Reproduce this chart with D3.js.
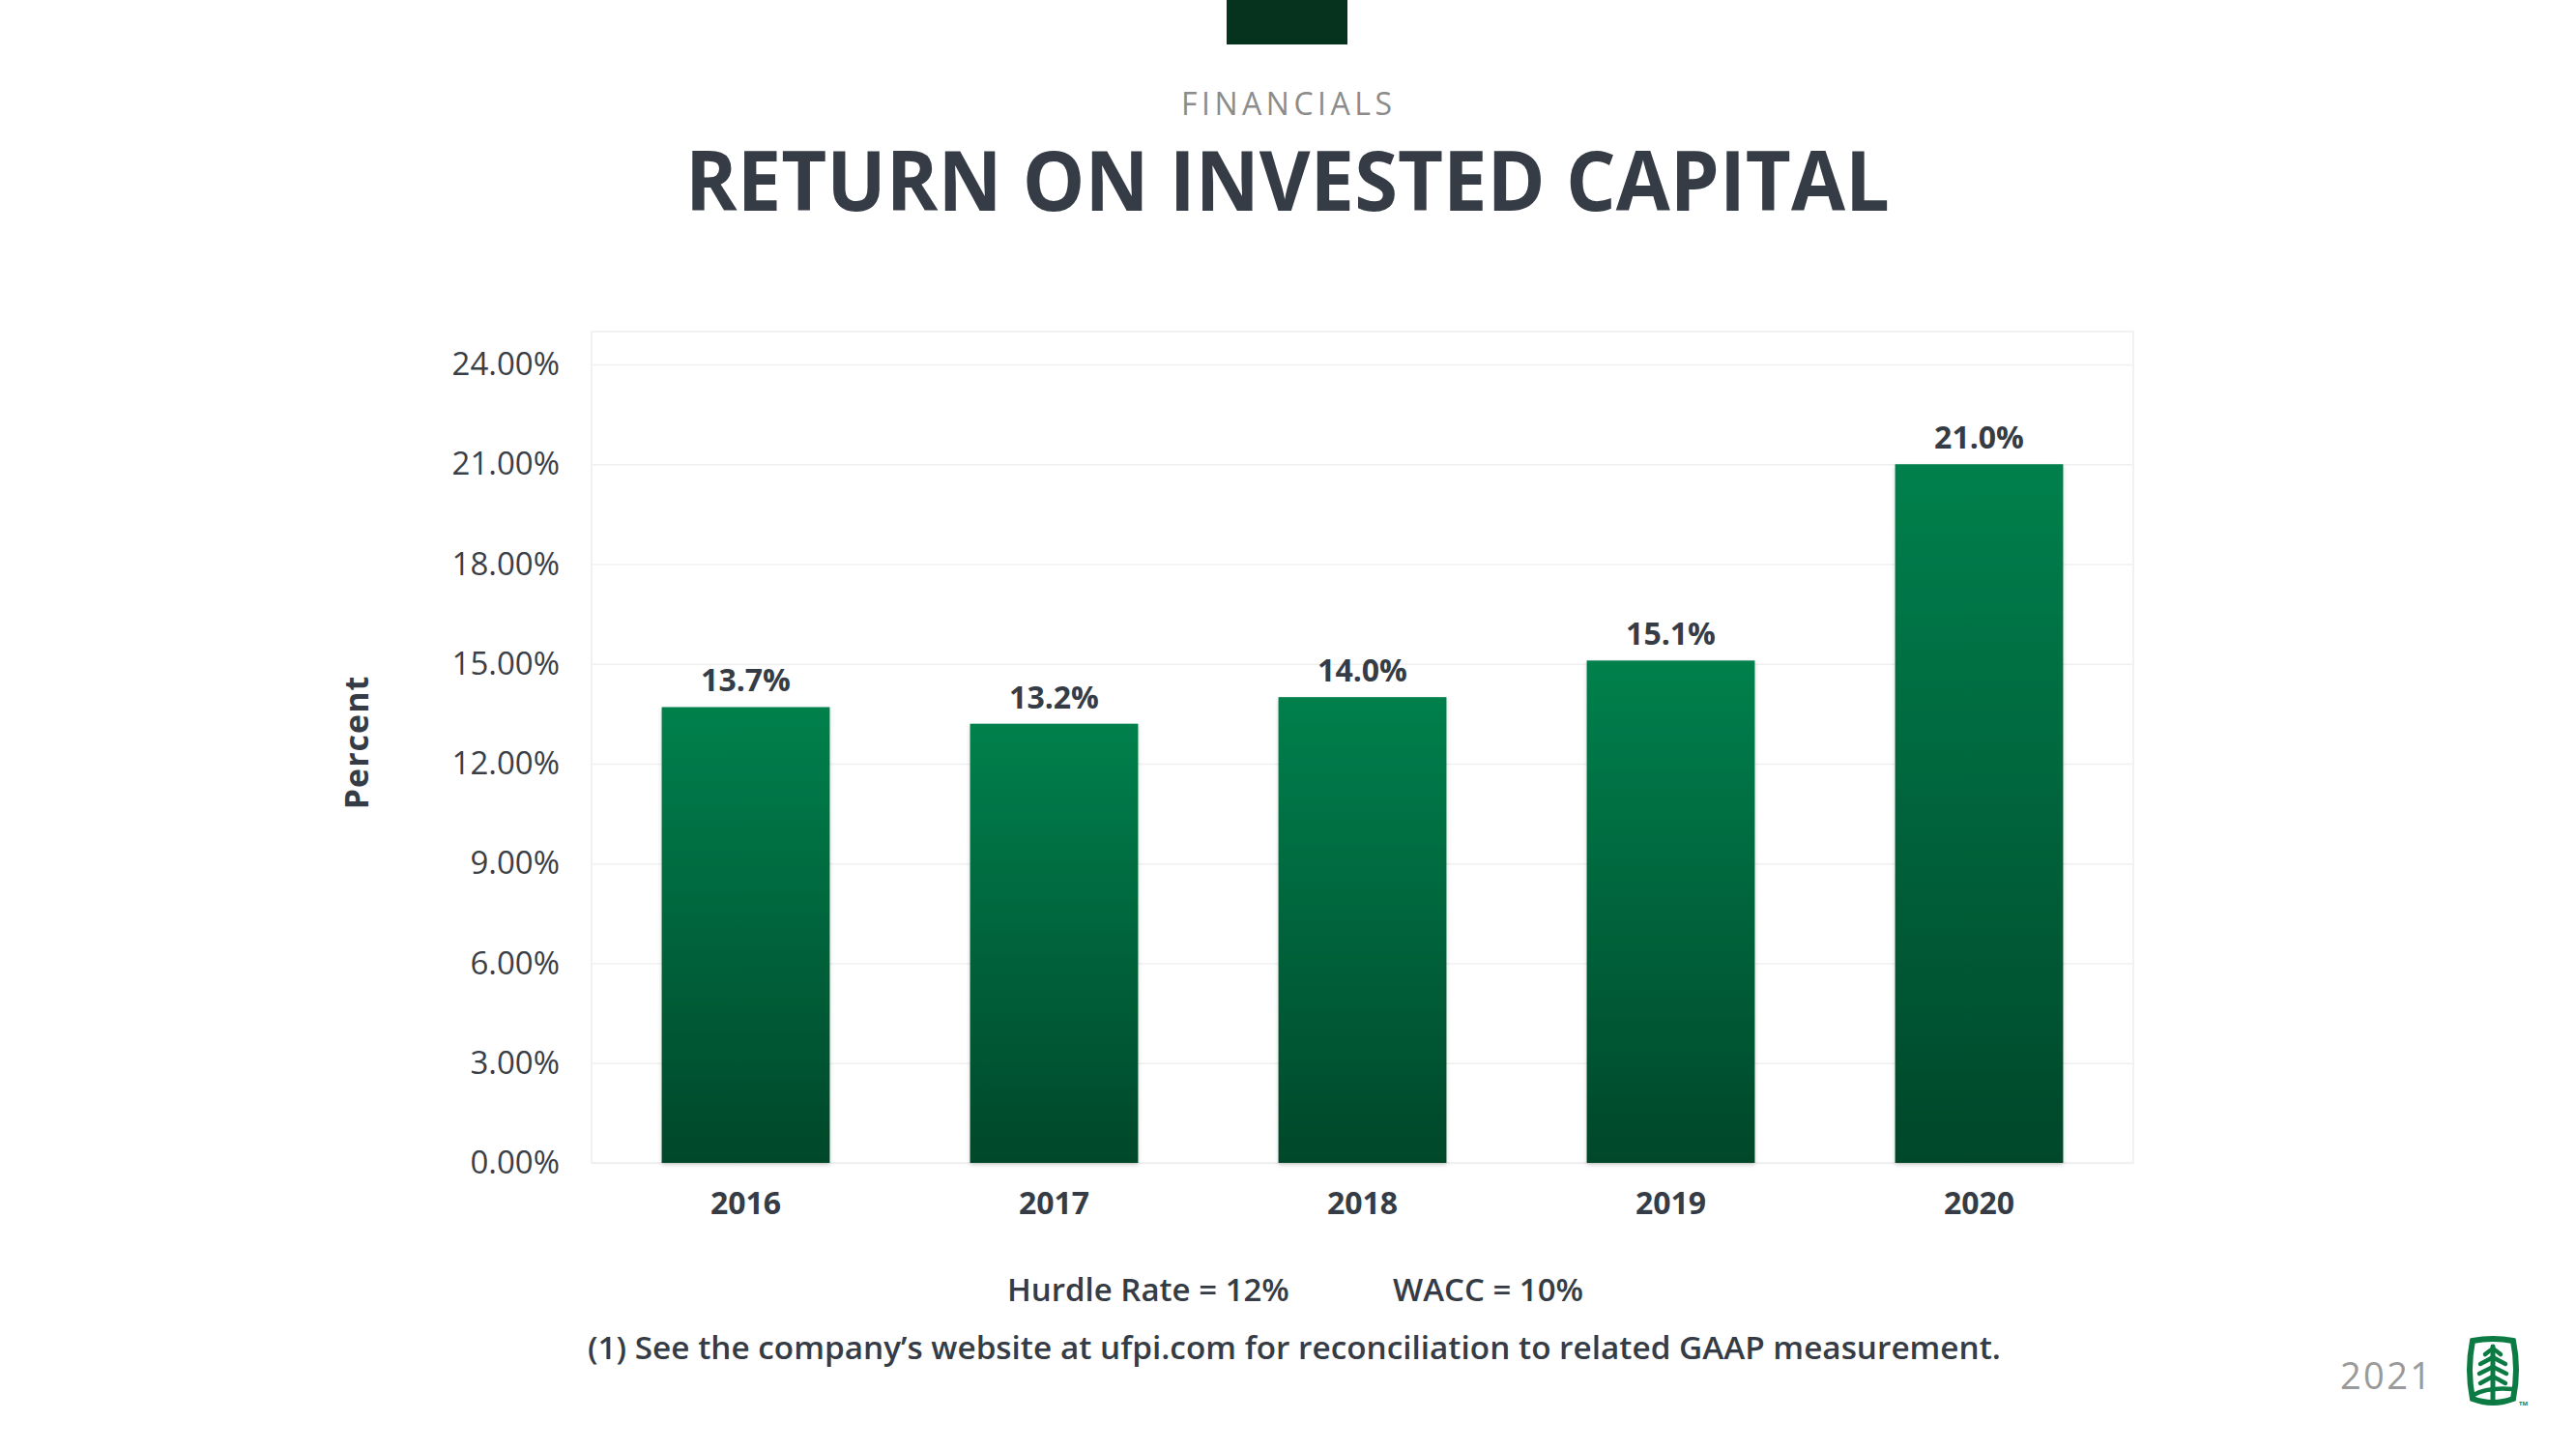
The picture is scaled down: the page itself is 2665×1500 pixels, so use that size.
<!DOCTYPE html>
<html>
<head>
<meta charset="utf-8">
<script src="https://cdn.jsdelivr.net/npm/d3@7"></script>
<style>
  html, body { margin: 0; padding: 0; background: #fff; }
  svg { display: block; font-family: 'Open Sans', 'Noto Sans', sans-serif; }
</style>
</head>
<body>
<div id="chart"></div>
<script>
const years = ['2016', '2017', '2018', '2019', '2020'];
const roic = [13.7, 13.2, 14.0, 15.1, 21.0];
const yTicks = [0, 3, 6, 9, 12, 15, 18, 21, 24];
const notes = ['Hurdle Rate = 12%', 'WACC = 10%'];

const width = 2665;
const height = 1500;
const plot = { left: 612, right: 2207, top: 343, bottom: 1203 };
const textColor = '#353c45';

const svg = d3.select('#chart').append('svg')
  .attr('width', width)
  .attr('height', height);

const defs = svg.append('defs');
const grad = defs.append('linearGradient')
  .attr('id', 'barGrad')
  .attr('x1', 0).attr('y1', 0).attr('x2', 0).attr('y2', 1);
grad.append('stop').attr('offset', '0%').attr('stop-color', '#00804c');
grad.append('stop').attr('offset', '100%').attr('stop-color', '#03472a');

const shadow = defs.append('filter').attr('id', 'shadow')
  .attr('x', '-10%').attr('y', '-10%').attr('width', '120%').attr('height', '120%');
shadow.append('feDropShadow')
  .attr('dx', 0).attr('dy', 2).attr('stdDeviation', 2)
  .attr('flood-color', '#000').attr('flood-opacity', 0.18);

// header
svg.append('rect')
  .attr('x', 1269).attr('y', 0)
  .attr('width', 125).attr('height', 46)
  .attr('fill', '#06331e');

svg.append('text')
  .attr('x', 1222).attr('y', 119)
  .attr('fill', '#8c8c8c')
  .attr('font-size', 32)
  .attr('textLength', 218)
  .attr('lengthAdjust', 'spacing')
  .text('FINANCIALS');

svg.append('text')
  .attr('x', 709).attr('y', 218)
  .attr('fill', textColor)
  .attr('font-size', 86)
  .attr('font-weight', 700)
  .attr('textLength', 1246)
  .attr('lengthAdjust', 'spacingAndGlyphs')
  .text('RETURN ON INVESTED CAPITAL');

// scales
const x = d3.scaleBand()
  .domain(years)
  .range([plot.left, plot.right])
  .paddingInner(0.455)
  .paddingOuter(0.2275);

const y = d3.scaleLinear()
  .domain([0, 24])
  .range([plot.bottom, 377]);

// frame
svg.append('rect')
  .attr('x', plot.left).attr('y', plot.top)
  .attr('width', plot.right - plot.left)
  .attr('height', plot.bottom - plot.top)
  .attr('fill', 'none')
  .attr('stroke', '#ededed')
  .attr('stroke-width', 1.5);

// grid
svg.append('g')
  .attr('class', 'grid')
  .attr('transform', `translate(${plot.left},0)`)
  .call(d3.axisLeft(y).tickValues(yTicks).tickSize(-(plot.right - plot.left)).tickFormat(''))
  .call(g => g.select('.domain').remove())
  .call(g => g.selectAll('line').attr('stroke', '#f0f0f0').attr('stroke-width', 1.5));

// y axis labels
svg.append('g')
  .attr('transform', `translate(${plot.left},0)`)
  .call(d3.axisLeft(y).tickValues(yTicks).tickSize(0).tickPadding(33)
    .tickFormat(d => d.toFixed(2) + '%'))
  .call(g => g.select('.domain').remove())
  .call(g => g.selectAll('text')
    .attr('font-family', "'Open Sans', sans-serif")
    .attr('font-size', 33)
    .attr('fill', '#3a3f47'));

// bars
svg.append('g')
  .selectAll('rect')
  .data(roic)
  .join('rect')
  .attr('x', (d, i) => x(years[i]))
  .attr('y', d => y(d))
  .attr('width', x.bandwidth())
  .attr('height', d => y(0) - y(d))
  .attr('fill', 'url(#barGrad)')
  .attr('filter', 'url(#shadow)');

// bar labels
svg.append('g')
  .selectAll('text')
  .data(roic)
  .join('text')
  .attr('x', (d, i) => x(years[i]) + x.bandwidth() / 2)
  .attr('y', d => y(d) - 16)
  .attr('text-anchor', 'middle')
  .attr('font-size', 32)
  .attr('font-weight', 700)
  .attr('fill', textColor)
  .text(d => d.toFixed(1) + '%');

// x axis labels
svg.append('g')
  .attr('transform', `translate(0,${plot.bottom})`)
  .call(d3.axisBottom(x).tickSize(0).tickPadding(30))
  .call(g => g.select('.domain').remove())
  .call(g => g.selectAll('text')
    .attr('font-family', "'Open Sans', sans-serif")
    .attr('font-size', 32)
    .attr('font-weight', 700)
    .attr('fill', textColor));

// y title
svg.append('text')
  .attr('transform', 'translate(381,768) rotate(-90)')
  .attr('text-anchor', 'middle')
  .attr('font-size', 34)
  .attr('font-weight', 700)
  .attr('letter-spacing', 1)
  .attr('fill', textColor)
  .text('Percent');

// footer notes
svg.append('text')
  .attr('x', 1042).attr('y', 1346)
  .attr('font-size', 33)
  .attr('font-weight', 600)
  .attr('fill', textColor)
  .text(notes[0]);

svg.append('text')
  .attr('x', 1441).attr('y', 1346)
  .attr('font-size', 33)
  .attr('font-weight', 600)
  .attr('fill', textColor)
  .text(notes[1]);

svg.append('text')
  .attr('x', 608).attr('y', 1406)
  .attr('font-size', 33)
  .attr('font-weight', 600)
  .attr('fill', textColor)
  .attr('textLength', 1462)
  .attr('lengthAdjust', 'spacingAndGlyphs')
  .text('(1) See the company\u2019s website at ufpi.com for reconciliation to related GAAP measurement.');

// year + logo
svg.append('text')
  .attr('x', 2421).attr('y', 1437)
  .attr('font-size', 38)
  .attr('fill', '#9a9a9a')
  .attr('textLength', 94)
  .attr('lengthAdjust', 'spacing')
  .text('2021');

const logo = svg.append('g')
  .attr('transform', 'translate(2553,1383)')
  .attr('fill', 'none')
  .attr('stroke', '#0b7a43')
  .attr('stroke-linecap', 'round');
logo.append('path')
  .attr('stroke-width', 6)
  .attr('d', 'M5,4 Q26,0 47,4 Q53,34 47,64 Q26,72 5,64 Q-1,34 5,4 Z');
logo.append('path')
  .attr('stroke-width', 5)
  .attr('d', 'M26,10 L26,66');
logo.append('path')
  .attr('stroke-width', 4.5)
  .attr('d', 'M18,18 Q23,14 26,12 Q29,14 34,18 M13,28 Q21,24 26,21 Q31,24 39,28 M12,38 Q20,34 26,31 Q32,34 40,38 M13,48 Q20,44 26,41 Q32,44 39,48 M6,60 Q20,52 46,54');
svg.append('text')
  .attr('x', 2606).attr('y', 1454)
  .attr('font-size', 6)
  .attr('font-weight', 700)
  .attr('fill', '#0b7a43')
  .text('TM');
</script>
</body>
</html>
